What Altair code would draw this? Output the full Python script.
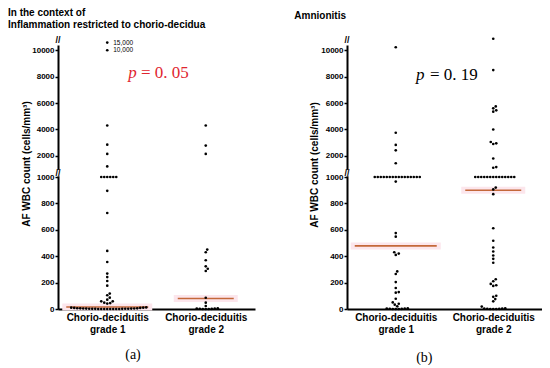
import altair as alt
import pandas as pd

# ---------------- data ----------------
CAT_LINE1 = "Chorio-deciduitis"
CAT_LINE2 = ["grade 1", "grade 2"]

# Panel (a): inflammation restricted to chorio-decidua
a_grade1 = [15000, 10000, 4300, 2850, 2150, 1200,
            1000, 1000, 1000, 1000, 1000, 1000,
            895, 727, 440, 356, 268, 242, 212, 177, 117, 104, 86, 71, 58, 58, 48, 45, 41,
            12, 10, 10, 8, 8, 6, 5, 5, 4, 4, 3, 3, 2, 2, 2, 1, 1, 1, 0, 0, 0, 0, 0, 0, 0, 0]
a_grade2 = [4300, 2780, 2150, 450, 430, 369, 323, 305, 288, 85, 48, 23,
            5, 4, 3, 2, 1, 0, 0, 0]
a_medians = [15, 79]
a_callout_values = [15000, 10000]
a_callout_texts = ["15,000", "10,000"]

# Panel (b): amnionitis
b_grade1 = [12000, 3750, 2830, 2420, 1440,
            1000, 1000, 1000, 1000, 1000, 1000, 1000, 1000,
            1000, 1000, 1000, 1000, 1000, 1000, 1000, 1000,
            965, 575, 548, 430, 420, 410, 285, 265, 204, 159, 128, 124, 78, 50, 40, 33, 20,
            5, 4, 3, 2, 1, 0, 0, 0]
b_grade2 = [17500, 8500, 5750, 5600, 5450, 5350, 4000, 3050, 2950, 2900, 1800, 1150, 1100,
            1000, 1000, 1000, 1000, 1000, 1000, 1000,
            1000, 1000, 1000, 1000, 1000, 1000, 1000,
            920, 906, 870, 612, 517, 466, 436, 405, 380, 350, 225, 210, 190, 180, 175,
            100, 92, 75, 58, 18, 5, 4, 3, 2, 1, 0, 0, 0]
b_medians = [478, 900]

a_title = "In the context of\nInflammation restricted to chorio-decidua"
b_title = "Amnionitis"
a_pvalue = "= 0. 05"
b_pvalue = "= 0. 19"
y_title = "AF WBC count (cells/mm\u00b3)"
y_ticks = [0, 200, 400, 600, 800, 1000, 2000, 4000, 6000, 8000, 10000]

# ---------------- styling / layout constants ----------------
SANS = "Liberation Sans"
SERIF = "Liberation Serif"
PX_PER_UNIT = 0.132       # px per display unit (lower segment: 132 px per 1000)
DOT_STEP = 3.0            # beeswarm spacing in px
MED_HALF = [41, 28]       # half width of median line per group (px)
BROWN = "#c4683a"
PINK = "#fce6ec"

# broken axis: 0-1000 linear, gap, 1000-10000 compressed x10, >10000 compressed more
EXPR = ("datum.v <= 1000 ? datum.v : (datum.v <= 10000 ? 1060 + (datum.v - 1000) * 0.1"
        " : 1960 + (datum.v - 10000) * 0.0116)")


def disp(v):
    if v <= 1000:
        return v
    if v <= 10000:
        return 1060 + (v - 1000) * 0.1
    return 1960 + (v - 10000) * 0.0116


def swarm(vals):
    order = sorted(range(len(vals)), key=lambda i: disp(vals[i]))
    placed = []
    offs = [0.0] * len(vals)
    for i in order:
        y = disp(vals[i]) * PX_PER_UNIT
        c = 0.0
        for k in range(0, 400):
            found = False
            for cand in ([0.0] if k == 0 else [k * 0.5, -k * 0.5]):
                if all((cand - xo) ** 2 + (y - yo) ** 2 >= DOT_STEP ** 2 * 0.999
                       for yo, xo in placed):
                    c = cand
                    found = True
                    break
            if found:
                break
        offs[i] = c
        placed.append((y, c))
    return offs


LABEL_EXPR_Y = "datum.value <= 1000 ? datum.value : round((datum.value - 1060) * 10 + 1000)"
LABEL_EXPR_X = ("datum.value == 1 ? ['%s', '%s'] : ['%s', '%s']"
                % (CAT_LINE1, CAT_LINE2[0], CAT_LINE1, CAT_LINE2[1]))


def panel(groups, medians, width, height, title_text, title_x, title_y,
          ytitle_x, ytitle_y,
          p_x, p_eq_x, p_y, p_text, p_color, letter, letter_x, letter_y,
          callout_values=None, callout_texts=None):
    unit = width / 2.0
    rows = []
    for gi, vals in enumerate(groups, start=1):
        offs = swarm(vals)
        for v, o in zip(vals, offs):
            lab = ""
            if callout_values and gi == 1 and v in callout_values:
                lab = callout_texts[callout_values.index(v)]
            rows.append({"g": gi, "v": v, "xpos": gi + o / unit, "label": lab})
    pts = pd.DataFrame(rows)

    med_rows = []
    for gi, m in enumerate(medians, start=1):
        hw = MED_HALF[gi - 1]
        med_rows.append({"g": gi, "v": m,
                         "x1": gi - hw / unit, "x2": gi + hw / unit,
                         "b1": gi - (hw + 4) / unit, "b2": gi + (hw + 4) / unit})
    meds = pd.DataFrame(med_rows)

    xs = alt.Scale(domain=[0.5, 2.5], nice=False, zero=False)
    ys = alt.Scale(domain=[0, 2000], nice=False, zero=False)

    xaxis = alt.Axis(values=[1, 2], labelExpr=LABEL_EXPR_X, title=None, tickCount=10)
    yaxis = alt.Axis(values=[disp(t) for t in y_ticks], labelExpr=LABEL_EXPR_Y,
                     title=y_title, tickCount=30, titleX=ytitle_x, titleY=ytitle_y)

    mbase = alt.Chart(meds).transform_calculate(d=EXPR)
    band = mbase.mark_rule(color=PINK, strokeWidth=7).encode(
        x=alt.X("b1:Q", scale=xs, axis=xaxis, title=None), x2="b2:Q",
        y=alt.Y("d:Q", scale=ys, axis=yaxis, title=y_title))
    line = mbase.mark_rule(color=BROWN, strokeWidth=1.6).encode(
        x=alt.X("x1:Q", scale=xs, title=None), x2="x2:Q",
        y=alt.Y("d:Q", scale=ys, title=y_title))

    base = alt.Chart(pts).transform_calculate(d=EXPR)
    points = base.mark_circle(size=7, color="black", opacity=1).encode(
        x=alt.X("xpos:Q", scale=xs, title=None),
        y=alt.Y("d:Q", scale=ys, title=y_title),
    )

    one = pd.DataFrame({"t": [""]})
    mask = alt.Chart(one).mark_rule(color="white", strokeWidth=6).encode(
        x=alt.value(0),
        y=alt.Y(datum=1006, type="quantitative", scale=ys, title=y_title),
        y2=alt.datum(1054))
    brk_mid = alt.Chart(one).mark_text(text="//", font=SANS, fontSize=9,
                                       fontWeight="bold", color="black").encode(
        x=alt.value(0), y=alt.Y(datum=1030, type="quantitative", scale=ys, title=y_title))
    brk_top = alt.Chart(one).mark_text(text="//", font=SANS, fontSize=9,
                                       fontWeight="bold", color="black").encode(
        x=alt.value(0), y=alt.Y(datum=2040, type="quantitative", scale=ys, title=y_title))

    layers = [band, line, points, mask, brk_mid, brk_top]

    if callout_values:
        callout = base.transform_filter("datum.label != ''").mark_text(
            align="left", baseline="middle", dx=6, font=SANS, fontSize=6.5,
            color="black").encode(
            x=alt.X("xpos:Q", scale=xs, title=None),
            y=alt.Y("d:Q", scale=ys, title=y_title), text="label:N")
        layers.append(callout)

    title = alt.Chart(pd.DataFrame({"t": [title_text]})).mark_text(
        align="left", baseline="top", font=SANS, fontSize=10, fontWeight="bold",
        color="black", lineBreak="\n", lineHeight=12).encode(
        x=alt.value(title_x), y=alt.value(title_y), text="t:N")
    p_it = alt.Chart(pd.DataFrame({"t": ["p"]})).mark_text(
        align="center", baseline="alphabetic", font=SERIF, fontSize=17,
        fontStyle="italic", color=p_color).encode(
        x=alt.value(p_x), y=alt.value(p_y), text="t:N")
    p_val = alt.Chart(pd.DataFrame({"t": [p_text]})).mark_text(
        align="left", baseline="alphabetic", font=SERIF, fontSize=17,
        color=p_color).encode(
        x=alt.value(p_eq_x), y=alt.value(p_y), text="t:N")
    let = alt.Chart(pd.DataFrame({"t": [letter]})).mark_text(
        align="center", baseline="alphabetic", font=SERIF, fontSize=14,
        color="black").encode(
        x=alt.value(letter_x), y=alt.value(letter_y), text="t:N")
    layers += [title, p_it, p_val, let]

    return alt.layer(*layers).properties(width=width, height=height)


H = 264
pa = panel([a_grade1, a_grade2], a_medians, 197, H, a_title, -50, -36.7,
           -27, 118.5,
           74.5, 83, 32.6, a_pvalue, "#e0252f", "(a)", 75, 314,
           a_callout_values, a_callout_texts)
pb = panel([b_grade1, b_grade2], b_medians, 195, H, b_title, -52.7, -33.9,
           -27.5, 119.5,
           73.3, 83, 35.4, b_pvalue, "black", "(b)", 77.3, 316.6)

chart = (
    alt.hconcat(pa, pb, spacing=39)
    .properties(padding=0)
    .configure_view(stroke=None)
    .configure_axis(grid=False, domainColor="black", domainWidth=2,
                    labelColor="black", labelFont=SANS, labelFontWeight="bold",
                    titleFont=SANS, titleFontWeight="bold", titleColor="black",
                    labelOverlap=False, labelFlush=False)
    .configure_axisX(ticks=False, tickSize=0, labelPadding=3, labelFontSize=10,
                     labelLineHeight=12.6)
    .configure_axisY(tickSize=3, tickWidth=1.5, tickColor="black", labelPadding=1,
                     labelFontSize=8, titleFontSize=10)
)

chart.save("out.html", embed_options={"renderer": "svg", "actions": False})
